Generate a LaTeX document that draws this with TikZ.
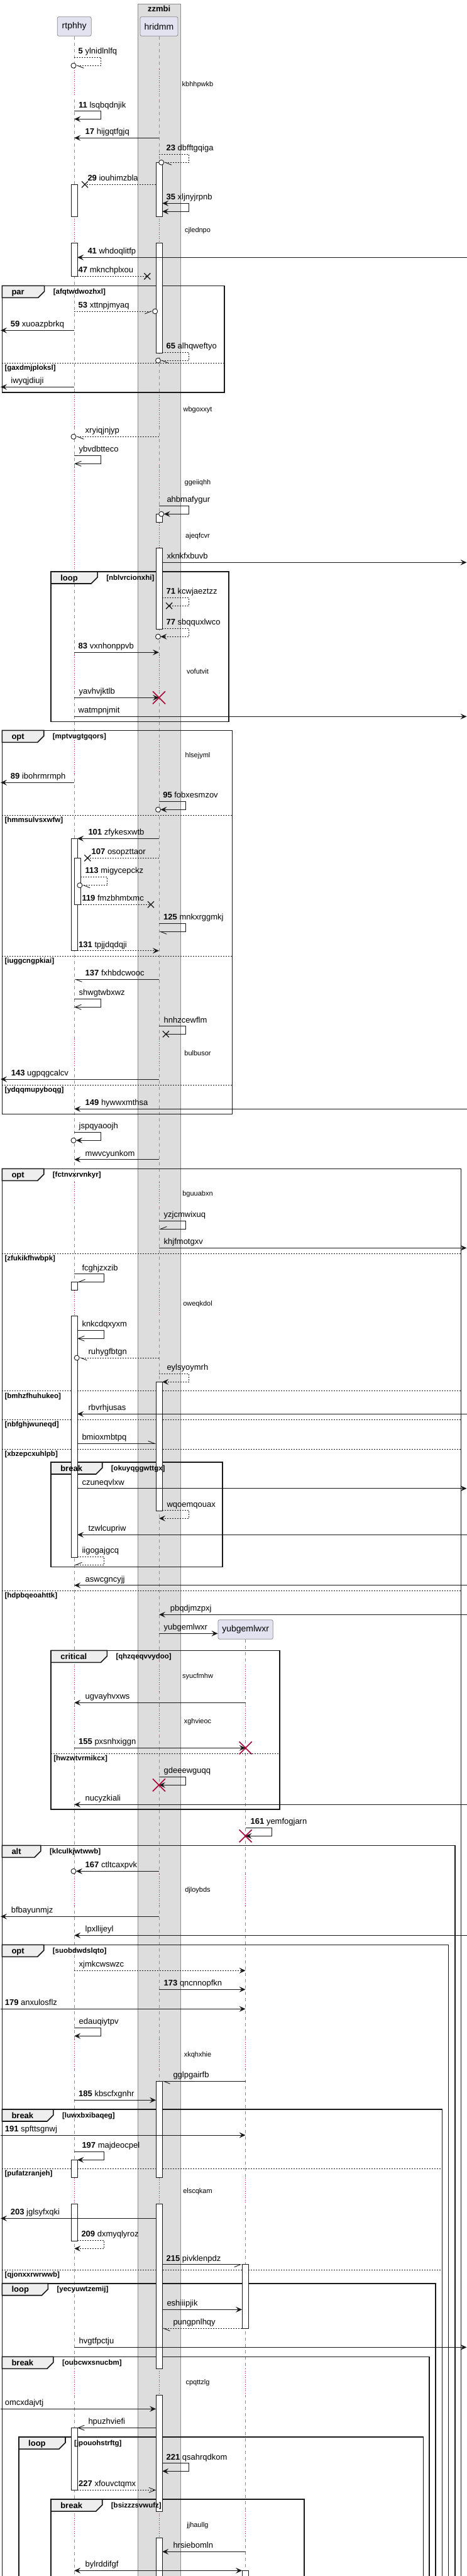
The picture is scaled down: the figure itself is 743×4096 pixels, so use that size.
\documentclass[tikz,border=0pt]{standalone}
\usepackage{fontspec}
\setmainfont{Liberation Sans}
\usetikzlibrary{arrows.meta}
\definecolor{ink}{HTML}{181818}
\definecolor{partfill}{HTML}{E2E2F0}
\definecolor{partline}{HTML}{8C8C8C}
\definecolor{boxfill}{HTML}{DDDDDD}
\definecolor{boxline}{HTML}{8C8C8C}
\definecolor{tabfill}{HTML}{EEEEEE}
\definecolor{lifegray}{HTML}{8C8C8C}
\definecolor{delayred}{HTML}{A80036}

\begin{document}
\begin{tikzpicture}[x=1pt,y=-1pt,
    >={Stealth[length=10pt,width=9pt,inset=4pt]},
    lbl/.style={anchor=base west,inner sep=0pt,font=\fontsize{13}{15}\selectfont},
    dly/.style={inner sep=0pt,font=\fontsize{11}{13}\selectfont},
    grp/.style={anchor=base west,inner sep=0pt,font=\bfseries\fontsize{13}{15}\selectfont},
    cnd/.style={anchor=base west,inner sep=0pt,font=\bfseries\fontsize{11.5}{13}\selectfont},
    partbox/.style={draw=partline,fill=partfill,rounded corners=2.5pt,line width=0.8pt,inner sep=0pt,minimum height=30.6pt,font=\fontsize{14}{16}\selectfont},
    msg/.style={ink,line width=0.9pt},
    ret/.style={msg,dash pattern=on 2pt off 2pt},
    fullhd/.style={->},
    twinhd/.style={<->},
    openhd/.style={-{Straight Barb[length=10pt,width=8pt]}},
    halfl/.style={-{Straight Barb[length=10pt,width=8pt,left]}},
    halfr/.style={-{Straight Barb[length=10pt,width=8pt,right]}},
    life/.style={lifegray,line width=0.8pt,dash pattern=on 5pt off 5pt},
    dlyline/.style={delayred,line width=0.8pt,dash pattern=on 1pt off 2.5pt},
    act/.style={draw=ink,fill=white,line width=0.8pt},
    grpframe/.style={draw=ink,line width=1.6pt},
    grptab/.style={draw=ink,fill=tabfill,line width=1.6pt},
    elsediv/.style={ink,line width=0.8pt,dash pattern=on 2pt off 2pt},
    lost/.style={ink,line width=1.3pt},
    kill/.style={delayred,line width=1.6pt}]

\useasboundingbox (0,0) rectangle (743,4096);
\clip (0,0) rectangle (743,4096);
\fill[white] (0,0) rectangle (743,4096);

% box round hridmm
\draw[boxline,fill=boxfill,line width=0.8pt] (219,6) rectangle (287.3,4110);
\node[font=\bfseries\fontsize{13}{15}\selectfont] (zzmbi) at (253.1,14.3) {zzmbi};

% participants
\node[partbox,minimum width=54pt] (rtphhy) at (118.2,42) {rtphhy};
\node[partbox,minimum width=60.1pt] (hridmm) at (252.95,42) {hridmm};
\node[partbox,minimum width=87.4pt] (yubgemlwxr) at (390.6,2591) {yubgemlwxr};

\coordinate (rtR) at (123.1,0);
\coordinate (rtN) at (128.4,0);
\coordinate (hrL) at (248.1,0);
\coordinate (hrR) at (258.2,0);
\coordinate (yuL) at (385.1,0);
\coordinate (lft) at (1,0);
\coordinate (rgt) at (742.5,0);

% lifelines
\draw[life] (rtphhy.south) -- (rtphhy |- 0,4110);
\draw[life] (hridmm.south) -- (hridmm |- 0,4110);
\draw[life] (yubgemlwxr.south) -- (yubgemlwxr |- 0,4110);

% delays
\foreach \ya/\yb in {108/153,344.3/386,624.3/678,743.3/910,1041.7/1095,1176.7/1230,1651.7/1697,1880/1913.3,2051.7/2092.7,2646.7/2690,2713.3/2753,2980/3030,3243.3/3290,3462.7/3504,3766/3808,3993.3/4035}{
    \draw[white,line width=2pt] (rtphhy |- 0,\ya) -- (rtphhy |- 0,\yb);
    \draw[dlyline] (rtphhy |- 0,\ya) -- (rtphhy |- 0,\yb);
}
\foreach \ya/\yb in {110/153,344.3/386,624.3/678,743.3/790,831.7/871.7,1041.7/1100,1176.7/1226.7,1651.7/1697,1880/1913.3,2048/2092.7,2646.7/2690,2713.3/2753,2980/3030,3243.3/3290,3462.7/3504,3766/3808,3993.3/4035}{
    \draw[boxfill,line width=2pt] (hridmm |- 0,\ya) -- (hridmm |- 0,\yb);
    \draw[dlyline] (hridmm |- 0,\ya) -- (hridmm |- 0,\yb);
}
\foreach \ya/\yb in {2646.7/2690,2713.3/2753,2980/3030,3243.3/3290,3462.7/3504,3766/3808,3993.3/4035}{
    \draw[white,line width=2pt] (yubgemlwxr |- 0,\ya) -- (yubgemlwxr |- 0,\yb);
    \draw[dlyline] (yubgemlwxr |- 0,\ya) -- (yubgemlwxr |- 0,\yb);
}
\foreach \t/\y [count=\i] in {kbhhpwkb/134.3,cjlednpo/366.7,wbgoxxyt/651.3,ggeiiqhh/767.3,ajeqfcvr/852.3,vofutvit/1067.3,hlsejyml/1202,bulbusor/1674.3,bguuabxn/1898.3,oweqkdol/2073.3,syucfmhw/2665.3,xghvieoc/2737.3,djloybds/3005.3,xkqhxhie/3267.3,elscqkam/3484.3,cpqttzlg/3788.3,jjhaullg/4015.3}
    \node[dly] (dl\i) at (314.5,\y) {\t};

% groups
\def\grouplist{3.3/357/454.3/623.7/70.6/par/[afqtwdwozhxl],
    81.1/364.1/909/1147.3/155.1/loop/[nblvrcionxhi],
    3.3/369.4/1161.3/1771.3/69.7/opt/[mptvugtgqors],
    3.3/733.5/1858.3/4110/69.7/opt/[fctnvxrvnkyr],
    81.1/354.1/2325/2491.3/162.7/break/[okuyqggwttgx],
    81.1/444.8/2624.3/2877/170.4/critical/[qhzqeqvvydoo],
    3.3/724/2934.3/4110/64.9/alt/[klculkjwtwwb],
    3.3/713.4/3092.3/4110/69.7/opt/[suobdwdslqto],
    3.3/703.4/3354/4110/84.9/break/[luwxbxibaqeg],
    3.3/692.9/3630.7/4110/76.4/loop/[yecyuwtzemij],
    3.3/682.9/3747.3/4110/84.9/break/[oubcwxsnucbm],
    30/673.3/3875/4110/104/loop/[jpouohstrftg],
    81.1/483.9/3974/4110/162.7/break/[bsizzzsvwufz]}
\foreach \xa/\xb/\ya/\yb/\tr/\nm/\cond in \grouplist {
    \draw[grpframe] (\xa,\ya) rectangle (\xb,\yb);
    \draw[grptab] (\xa,\ya) -- (\tr,\ya) -- (\tr,\ya+9) -- (\tr-10,\ya+19) -- (\xa,\ya+19) -- cycle;
}
\foreach \xa/\xb/\y/\t [count=\i] in {3.3/357/577.3/[gaxdmjploksl],3.3/369.4/1296.3/[hmmsulvsxwfw],3.3/369.4/1520.3/[iuggcngpkiai],3.3/369.4/1725/[ydqqmupyboqg],3.3/733.5/1993.3/[zfukikfhwbpk],3.3/733.5/2211.7/[bmhzfhuhukeo],3.3/733.5/2257.3/[nbfghjwuneqd],3.3/733.5/2304.3/[xbzepcxuhlpb],3.3/733.5/2529.3/[hdpbqeoahttk],81.1/444.8/2788.3/[hwzwtvrmikcx],3.3/703.4/3448.3/[pufatzranjeh],3.3/703.4/3609.3/[qjonxxrwrwwb]}{
    \draw[elsediv] (\xa,\y) -- (\xb,\y);
    \node[cnd] (el\i) at (\xa+4,\y+11.3) {\t};
}

% activations
\foreach \xa/\ya/\yb in {113.1/293.3/344.3,113.1/386/439.3,113.1/1333.3/1511.7,113.1/2038.3/2051.7,113.1/2092.7/2476.3,113.1/3434.3/3462.7,113.1/3504/3563.3,113.1/3860.3/3959.3,118.3/1364.3/1438.3,
    248.1/258.3/344.3,248.1/386/561,248.1/817.3/830.7,248.1/871.7/1000.3,248.1/2197.3/2402.3,248.1/3309.3/3462.7,248.1/3504/3766,248.1/3808/3993.3,248.1/4035/4110,
    385.1/3600.7/3702.3,385.1/4087.3/4110}
    \draw[act] (\xa,\ya) rectangle (\xa+10.1,\yb);

\foreach \xa/\xb/\ya/\yb/\tr/\nm/\cond [count=\i] in \grouplist {
    \node[grp] (g\i) at (\xa+15,\ya+14) {\nm};
    \node[cnd] (c\i) at (\tr+14,\ya+13) {\cond};
}

% messages
\draw[ret,halfl] (rtphhy |- 0,91) -| (160.8,104.3) -- (121,104.3);
\node[lbl] (t5) at (124.5,85.5) {\textbf{5} ylnidlnlfq};
\draw[msg,fullhd] (rtphhy |- 0,176.7) -| (160.8,189.3) -- (rtphhy |- 0,189.3);
\node[lbl] (t11) at (125,171.2) {\textbf{11} lsqbqdnjik};
\draw[msg,fullhd] (hridmm |- 0,219.3) -- (rtphhy |- 0,219.3);
\node[lbl] (t17) at (135.5,213.8) {\textbf{17} hijgqtfgjq};
\draw[ret,halfl] (hridmm |- 0,245.3) -| (300.6,258.3) -- (260.7,258.3);
\node[lbl] (t23) at (264.4,239.8) {\textbf{23} dbfftgqiga};
\draw[ret] (hrL |- 0,293.3) -- (135,293.3);
\node[lbl] (t29) at (139.3,287.8) {\textbf{29} iouhimzbla};
\draw[msg,twinhd] (hrR |- 0,323.3) -| (300.6,336.3) -- (hrR |- 0,336.3);
\node[lbl] (t35) at (264.4,317.8) {\textbf{35} xljnyjrpnb};
\draw[msg,fullhd] (rgt |- 0,409.3) -- (rtR |- 0,409.3);
\node[lbl] (t41) at (139.3,403.8) {\textbf{41} whdoqlitfp};
\draw[ret] (rtR |- 0,439.3) -- (234.3,439.3);
\node[lbl] (t47) at (124.5,433.8) {\textbf{47} mknchplxou};
\draw[ret,halfr] (rtphhy |- 0,495) -- (242.7,495);
\node[lbl] (t53) at (124.5,489.5) {\textbf{53} xttnpjmyaq};
\draw[msg,fullhd] (rtphhy |- 0,525.3) -- (lft |- 0,525.3);
\node[lbl] (t59) at (16.7,519.8) {\textbf{59} xuoazpbrkq};
\draw[ret,halfl] (hrR |- 0,560) -| (300.6,573.3) -- (255.5,573.3);
\node[lbl] (t65) at (264.4,554.5) {\textbf{65} alhqweftyo};
\draw[msg,fullhd] (rtphhy |- 0,615.3) -- (lft |- 0,615.3);
\node[lbl] (tiwy) at (17.2,609.8) {iwyqjdiuji};
\draw[ret,halfl] (hridmm |- 0,694.3) -- (121,694.3);
\node[lbl] (txry) at (135.5,688.8) {xryiqjnjyp};
\draw[msg,openhd] (rtphhy |- 0,724.3) -| (160.8,737.3) -- (rtphhy |- 0,737.3);
\node[lbl] (tybv) at (125.5,718.8) {ybvdbtteco};
\draw[msg,fullhd] (hridmm |- 0,804.3) -| (300.6,817.3) -- (260.7,817.3);
\node[lbl] (tahb) at (265.3,798.8) {ahbmafygur};
\draw[msg,fullhd] (hrR |- 0,894.3) -- (rgt |- 0,894.3);
\node[lbl] (txkn) at (265.3,888.8) {xknkfxbuvb};
\draw[ret] (hrR |- 0,950.3) -| (300.6,963.3) -- (269.1,963.3);
\node[lbl] (t71) at (264.4,944.8) {\textbf{71} kcwjaeztzz};
\draw[ret,fullhd] (hrR |- 0,999.3) -| (300.6,1012.3) -- (255.5,1012.3);
\node[lbl] (t77) at (264.4,993.8) {\textbf{77} sbqquxlwco};
\draw[msg,fullhd] (rtphhy |- 0,1037.3) -- (hridmm |- 0,1037.3);
\node[lbl] (t83) at (124.5,1031.8) {\textbf{83} vxnhonppvb};
\draw[msg,fullhd] (rtphhy |- 0,1109.3) -- (hridmm |- 0,1109.3);
\node[lbl] (tyav) at (125.5,1103.8) {yavhvjktlb};
\draw[msg,fullhd] (rtphhy |- 0,1139.3) -- (rgt |- 0,1139.3);
\node[lbl] (twat) at (124.5,1133.8) {watmpnjmit};
\draw[msg,fullhd] (rtphhy |- 0,1244.3) -- (lft |- 0,1244.3);
\node[lbl] (t89) at (16.7,1238.8) {\textbf{89} ibohrmrmph};
\draw[msg,fullhd] (hridmm |- 0,1274.3) -| (295.4,1287.3) -- (255.5,1287.3);
\node[lbl] (t95) at (259.1,1268.8) {\textbf{95} fobxesmzov};
\draw[msg,fullhd] (hridmm |- 0,1333.3) -- (rtR |- 0,1333.3);
\node[lbl] (t101) at (140.3,1327.8) {\textbf{101} zfykesxwtb};
\draw[ret] (hridmm |- 0,1364.3) -- (139.3,1364.3);
\node[lbl] (t107) at (145.5,1358.8) {\textbf{107} osopzttaor};
\draw[ret,halfl] (rtN |- 0,1394.3) -| (170.8,1407.7) -- (130.9,1407.7);
\node[lbl] (t113) at (135.5,1388.8) {\textbf{113} migycepckz};
\draw[ret] (rtN |- 0,1438.3) -- (240,1438.3);
\node[lbl] (t119) at (130.3,1432.8) {\textbf{119} fmzbhmtxmc};
\draw[msg,halfl] (hridmm |- 0,1468.3) -| (295.4,1481.3) -- (hridmm |- 0,1481.3);
\node[lbl] (t125) at (260,1462.8) {\textbf{125} mnkxrggmkj};
\draw[ret,fullhd] (rtR |- 0,1511.7) -- (hridmm |- 0,1511.7);
\node[lbl] (t131) at (125,1506.2) {\textbf{131} tpjjdqdqji};
\draw[msg,halfl] (hridmm |- 0,1557.3) -- (rtphhy |- 0,1557.3);
\node[lbl] (t137) at (135.5,1551.8) {\textbf{137} fxhbdcwooc};
\draw[msg,openhd] (rtphhy |- 0,1588.3) -| (160.8,1601.3) -- (rtphhy |- 0,1601.3);
\node[lbl] (tshw) at (125.5,1582.8) {shwgtwbxwz};
\draw[msg] (hridmm |- 0,1631.7) -| (295.4,1644.3) -- (263.9,1644.3);
\node[lbl] (thnh) at (260.5,1626.2) {hnhzcewflm};
\draw[msg,fullhd] (hridmm |- 0,1716) -- (lft |- 0,1716);
\node[lbl] (t143) at (17.7,1710.5) {\textbf{143} ugpqgcalcv};
\draw[msg,fullhd] (rgt |- 0,1763.3) -- (rtphhy |- 0,1763.3);
\node[lbl] (t149) at (135.5,1757.8) {\textbf{149} hywwxmthsa};
\draw[msg,fullhd] (rtphhy |- 0,1800.3) -| (160.8,1813.3) -- (121,1813.3);
\node[lbl] (tjsp) at (125.5,1794.8) {jspqyaoojh};
\draw[msg,fullhd] (hridmm |- 0,1843.7) -- (rtphhy |- 0,1843.7);
\node[lbl] (tmwv) at (135.5,1838.2) {mwvcyunkom};
\draw[msg,halfr] (hridmm |- 0,1941.3) -| (295.4,1954.3) -- (hridmm |- 0,1954.3);
\node[lbl] (tyzj) at (260.5,1935.8) {yzjcmwixuq};
\draw[msg,fullhd] (hridmm |- 0,1984.3) -- (rgt |- 0,1984.3);
\node[lbl] (tkhj) at (260.5,1978.8) {khjfmotgxv};
\draw[msg,halfr] (rtphhy |- 0,2025.7) -| (165.6,2038.3) -- (rtR |- 0,2038.3);
\node[lbl] (tfcg) at (130.3,2020.2) {fcghjzxzib};
\draw[msg,openhd] (rtR |- 0,2115.3) -| (165.6,2128.3) -- (rtR |- 0,2128.3);
\node[lbl] (tknk) at (130.3,2109.8) {knkcdqxyxm};
\draw[ret,halfl] (hridmm |- 0,2159) -- (126.2,2159);
\node[lbl] (truh) at (140.3,2153.5) {ruhygfbtgn};
\draw[ret,fullhd] (hridmm |- 0,2184.3) -| (300.6,2197.3) -- (hrR |- 0,2197.3);
\node[lbl] (teyl) at (265.3,2178.8) {eylsyoymrh};
\draw[msg,fullhd] (rgt |- 0,2248.3) -- (rtR |- 0,2248.3);
\node[lbl] (trbv) at (140.3,2242.8) {rbvrhjusas};
\draw[msg,halfl] (rtR |- 0,2295.3) -- (hrL |- 0,2295.3);
\node[lbl] (tbmi) at (130.3,2289.8) {bmioxmbtpq};
\draw[msg,fullhd] (rtR |- 0,2366.7) -- (rgt |- 0,2366.7);
\node[lbl] (tczu) at (130.3,2361.2) {czuneqvlxw};
\draw[ret,fullhd] (hrR |- 0,2401.7) -| (300.6,2414.3) -- (hridmm |- 0,2414.3);
\node[lbl] (twqo) at (265.3,2396.2) {wqoemqouax};
\draw[msg,fullhd] (rgt |- 0,2440.3) -- (rtR |- 0,2440.3);
\node[lbl] (ttzw) at (140.3,2434.8) {tzwlcupriw};
\draw[ret,halfr] (rtR |- 0,2475.3) -| (165.6,2488.3) -- (rtphhy |- 0,2488.3);
\node[lbl] (tiig) at (130.3,2469.8) {iigogajgcq};
\draw[msg,fullhd] (rgt |- 0,2520.7) -- (rtphhy |- 0,2520.7);
\node[lbl] (tasw) at (135.5,2515.2) {aswcgncyjj};
\draw[msg,fullhd] (rgt |- 0,2567.3) -- (hridmm |- 0,2567.3);
\node[lbl] (tpbq) at (270.6,2561.8) {pbqdjmzpxj};
\draw[msg,fullhd] (hridmm |- 0,2597.3) -- (yubgemlwxr.west |- 0,2597.3);
\node[lbl] (tyub) at (260.5,2591.8) {yubgemlwxr};
\draw[msg,fullhd] (yubgemlwxr |- 0,2707.3) -- (rtphhy |- 0,2707.3);
\node[lbl] (tugv) at (135.5,2701.8) {ugvayhvxws};
\draw[msg,fullhd] (rtphhy |- 0,2779.3) -- (yubgemlwxr |- 0,2779.3);
\node[lbl] (t155) at (125,2773.8) {\textbf{155} pxsnhxiggn};
\draw[msg,fullhd] (hridmm |- 0,2825.3) -| (295.4,2838.3) -- (hridmm |- 0,2838.3);
\node[lbl] (tgde) at (260.5,2819.8) {gdeeewguqq};
\draw[msg,fullhd] (rgt |- 0,2869.3) -- (rtphhy |- 0,2869.3);
\node[lbl] (tnuc) at (135.5,2863.8) {nucyzkiali};
\draw[msg,fullhd] (yubgemlwxr |- 0,2906.3) -| (432.4,2919.3) -- (yubgemlwxr |- 0,2919.3);
\node[lbl] (t161) at (398.5,2900.8) {\textbf{161} yemfogjarn};
\draw[msg,fullhd] (hridmm |- 0,2975.3) -- (121,2975.3);
\node[lbl] (t167) at (135.5,2969.8) {\textbf{167} ctltcaxpvk};
\draw[msg,fullhd] (hridmm |- 0,3047.3) -- (lft |- 0,3047.3);
\node[lbl] (tbfb) at (17.7,3041.8) {bfbayunmjz};
\draw[msg,fullhd] (rgt |- 0,3077.3) -- (rtphhy |- 0,3077.3);
\node[lbl] (tlpx) at (135.5,3071.8) {lpxllijeyl};
\draw[ret,fullhd] (rtphhy |- 0,3133.3) -- (yubgemlwxr |- 0,3133.3);
\node[lbl] (txjm) at (125.5,3127.8) {xjmkcwswzc};
\draw[msg,fullhd] (hridmm |- 0,3163.3) -- (yubgemlwxr |- 0,3163.3);
\node[lbl] (t173) at (260.5,3157.8) {\textbf{173} qncnnopfkn};
\draw[msg,fullhd] (lft |- 0,3194.3) -- (yubgemlwxr |- 0,3194.3);
\node[lbl] (t179) at (7.6,3188.8) {\textbf{179} anxulosflz};
\draw[msg,fullhd] (rtphhy |- 0,3224.3) -| (160.8,3237.3) -- (rtphhy |- 0,3237.3);
\node[lbl] (teda) at (125.5,3218.8) {edauqiytpv};
\draw[msg,halfl] (yubgemlwxr |- 0,3309.3) -- (hrR |- 0,3309.3);
\node[lbl] (tggl) at (275.3,3303.8) {gglpgairfb};
\draw[msg,fullhd] (rtphhy |- 0,3339.3) -- (hrL |- 0,3339.3);
\node[lbl] (t185) at (125,3333.8) {\textbf{185} kbscfxgnhr};
\draw[msg,fullhd] (lft |- 0,3395) -- (yubgemlwxr |- 0,3395);
\node[lbl] (t191) at (7.6,3389.5) {\textbf{191} spfttsgnwj};
\draw[msg,fullhd] (rtphhy |- 0,3421.3) -| (165.6,3434.3) -- (rtR |- 0,3434.3);
\node[lbl] (t197) at (130.3,3415.8) {\textbf{197} majdeocpel};
\draw[msg,fullhd] (hrL |- 0,3527.3) -- (lft |- 0,3527.3);
\node[lbl] (t203) at (16.7,3521.8) {\textbf{203} jglsyfxqki};
\draw[ret,fullhd] (rtR |- 0,3562.3) -| (165.6,3575.3) -- (rtphhy |- 0,3575.3);
\node[lbl] (t209) at (129.3,3556.8) {\textbf{209} dxmyqlyroz};
\draw[msg,halfr] (hrR |- 0,3600.7) -- (yuL |- 0,3600.7);
\node[lbl] (t215) at (264.4,3595.2) {\textbf{215} pivklenpdz};
\draw[msg,fullhd] (hrR |- 0,3672.3) -- (yuL |- 0,3672.3);
\node[lbl] (tesh) at (265.3,3666.8) {eshiiipjik};
\draw[ret,halfl] (yuL |- 0,3702.3) -- (hrR |- 0,3702.3);
\node[lbl] (tpun) at (275.3,3696.8) {pungpnlhqy};
\draw[msg,fullhd] (rtphhy |- 0,3732.3) -- (rgt |- 0,3732.3);
\node[lbl] (thvg) at (125.5,3726.8) {hvgtfpctju};
\draw[msg,fullhd] (lft |- 0,3830.3) -- (hrL |- 0,3830.3);
\node[lbl] (tomc) at (7.6,3824.8) {omcxdajvtj};
\draw[msg,openhd] (hrL |- 0,3860.3) -- (rtR |- 0,3860.3);
\node[lbl] (thpu) at (140.3,3854.8) {hpuzhviefi};
\draw[msg,fullhd] (hrR |- 0,3916.7) -| (300.6,3929.3) -- (hrR |- 0,3929.3);
\node[lbl] (t221) at (264.4,3911.2) {\textbf{221} qsahrqdkom};
\draw[ret,openhd] (rtR |- 0,3959.3) -- (hrL |- 0,3959.3);
\node[lbl] (t227) at (125,3953.8) {\textbf{227} xfouvctqmx};
\draw[msg,fullhd] (yubgemlwxr |- 0,4057.3) -- (hrR |- 0,4057.3);
\node[lbl] (thrs) at (275.3,4051.8) {hrsiebomln};
\draw[msg,twinhd] (rtphhy |- 0,4087.3) -- (yuL |- 0,4087.3);
\node[lbl] (tbyl) at (135.5,4081.8) {bylrddifgf};

% circle ends
\foreach \x/\y in {117/104.3,256.7/258.3,246.7/495,251.5/573.3,117/694.3,256.7/817.3,251.5/1012.3,251.5/1287.3,126.9/1407.7,117/1813.3,122.2/2159,117/2975.3}
    \draw[msg,fill=white] (\x,\y) circle (4pt);
% lost ends
\foreach \x/\y in {135/293.3,234.3/439.3,269.1/963.3,139.3/1364.3,240/1438.3,263.9/1644.3}
    \draw[lost] (\x-5,\y-5) -- (\x+5,\y+5) (\x-5,\y+5) -- (\x+5,\y-5);
% destroyed
\foreach \x/\y in {252.95/1109.3,390.6/2779.3,252.95/2838.3,390.6/2919.3}
    \draw[kill] (\x-10,\y-10) -- (\x+10,\y+10) (\x-10,\y+10) -- (\x+10,\y-10);

\end{tikzpicture}
\end{document}
